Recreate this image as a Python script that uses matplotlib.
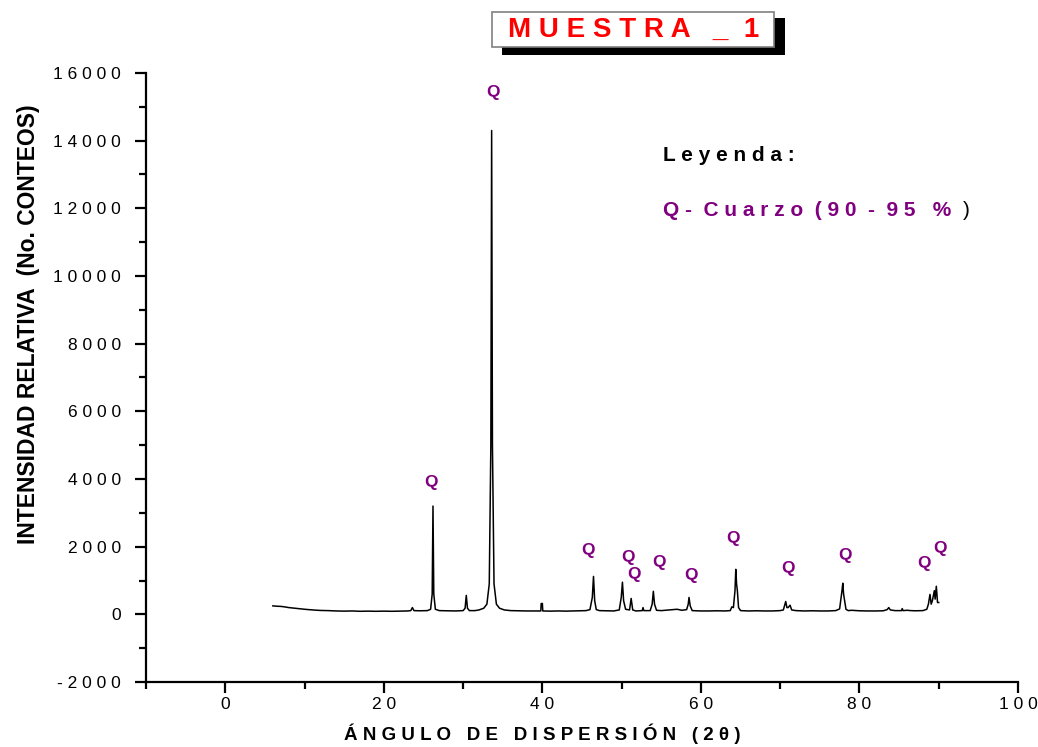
import matplotlib
matplotlib.use("Agg")
import matplotlib.pyplot as plt
from matplotlib.patches import Rectangle
from matplotlib.ticker import MultipleLocator

plt.rcParams["font.family"] = ["Liberation Sans", "DejaVu Sans"]

# difractograma (2theta, conteos)
two_theta = [6.0, 6.5, 7.0, 7.5, 8.0, 9.0, 10.0, 11.0, 12.0, 13.0, 14.0, 15.0,
             16.0, 17.0, 18.0, 19.0, 20.0, 21.0, 22.0, 23.0, 23.4, 23.6, 23.8,
             24.5, 25.5, 25.9, 26.1, 26.2, 26.3, 26.5, 27.0, 28.0, 29.0, 30.0,
             30.25, 30.4, 30.55, 30.8, 31.5, 32.0, 32.6, 33.0, 33.3, 33.5, 33.6,
             33.7, 33.9, 34.2, 34.6, 35.2, 36.0, 37.0, 38.0, 39.0, 39.8, 39.85,
             40.0, 40.05, 41.0, 42.0, 43.0, 44.0, 45.0, 45.5, 46.0, 46.3, 46.45,
             46.6, 46.8, 47.2, 48.0, 49.0, 49.7, 49.95, 50.1, 50.25, 50.5, 51.0,
             51.2, 51.4, 51.8, 52.6, 52.7, 52.8, 53.6, 53.85, 54.0, 54.15, 54.4,
             55.0, 56.0, 57.0, 57.6, 58.2, 58.4, 58.5, 58.65, 58.9, 60.0, 61.0,
             62.0, 63.0, 63.7, 63.9, 64.1, 64.3, 64.4, 64.5, 64.6, 64.75, 65.0,
             66.0, 67.0, 68.0, 69.0, 70.0, 70.4, 70.7, 70.85, 71.0, 71.25, 71.45,
             72.0, 73.0, 74.0, 75.0, 76.0, 77.0, 77.5, 77.8, 77.9, 78.0, 78.1,
             78.3, 78.6, 79.0, 80.0, 81.0, 82.0, 83.0, 83.5, 83.7, 83.9, 84.5,
             85.3, 85.4, 85.5, 86.0, 86.5, 87.0, 88.0, 88.5, 88.7, 88.9, 89.05,
             89.2, 89.45, 89.55, 89.7, 89.85, 90.0]
counts = [250, 240, 235, 220, 200, 175, 150, 130, 115, 110, 100, 95,
          100, 90, 95, 90, 95, 90, 95, 100, 110, 200, 110,
          105, 110, 150, 600, 3200, 600, 150, 110, 105, 100, 110,
          180, 560, 180, 110, 110, 130, 180, 300, 900, 5000, 14300,
          5000, 900, 300, 180, 130, 110, 105, 100, 100, 100, 320,
          320, 100, 95, 100, 95, 100, 105, 110, 140, 500, 1120,
          400, 140, 110, 105, 100, 130, 500, 950, 400, 150, 130,
          470, 130, 100, 110, 200, 110, 110, 300, 680, 300, 120,
          110, 130, 150, 120, 140, 300, 500, 250, 110, 100, 100,
          105, 100, 110, 220, 200, 700, 1330, 900, 700, 200, 110,
          100, 105, 100, 100, 110, 130, 380, 200, 200, 270, 130,
          110, 100, 105, 100, 100, 110, 160, 700, 920, 600, 450,
          150, 110, 120, 105, 100, 100, 105, 140, 200, 130, 110,
          110, 170, 110, 120, 110, 105, 110, 150, 300, 590, 300,
          400, 700, 450, 830, 350, 350]

# etiquetas "Q" (posicion en 2theta, conteos)
q_x = [26.0, 33.8, 45.8, 50.8, 51.6, 54.7, 58.7, 64.1, 71.0, 78.2, 88.1, 90.2]
q_y = [3900, 15430, 1890, 1685, 1180, 1540, 1150, 2250, 1360, 1745, 1510, 1950]

x_ticks = [0, 20, 40, 60, 80, 100]
y_ticks = [-2000, 0, 2000, 4000, 6000, 8000, 10000, 12000, 14000, 16000]

purple = "#800080"


def spaced(s, gap=" "):
    return gap.join(s)


fig = plt.figure(figsize=(10.38, 7.47), dpi=100)
ax = fig.add_axes([0.1407, 0.0870, 0.8400, 0.8153])

ax.plot(two_theta, counts, color="black", linewidth=1.1)

for qx, qy in zip(q_x, q_y):
    ax.text(qx, qy, "Q", color=purple, fontsize=12.5, fontweight="bold",
            ha="center", va="center")

ax.text(55.2, 13570, spaced("Leyenda:"), fontsize=15, fontweight="bold",
        color="black", va="center")
ax.text(55.2, 11940, "Q -  " + spaced("Cuarzo") + "  ( 9 0  -  9 5   %",
        fontsize=15, fontweight="bold", color=purple, va="center")
ax.text(93.0, 11940, ")", fontsize=15, color="black", va="center")

ax.set_xlim(-10, 100)
ax.set_ylim(-2000, 16000)
ax.set_xticks(x_ticks)
ax.set_xticklabels([spaced(str(v)) for v in x_ticks], fontsize=12.5)
ax.set_yticks(y_ticks)
ax.set_yticklabels([spaced(str(v)) for v in y_ticks], fontsize=12.5)
ax.xaxis.set_minor_locator(MultipleLocator(10))
ax.yaxis.set_minor_locator(MultipleLocator(1000))

for side in ["top", "right"]:
    ax.spines[side].set_visible(False)
for side in ["left", "bottom"]:
    ax.spines[side].set_linewidth(1.6)
ax.tick_params(which="major", direction="out", length=8, width=1.6)
ax.tick_params(which="minor", direction="out", length=5, width=1.6)
ax.tick_params(axis="x", pad=3)
ax.tick_params(axis="y", pad=10)

ax.set_xlabel("Á N G U L O   D E   D I S P E R S I Ó N   ( 2 θ )",
              fontsize=13.5, fontweight="bold", va="top")
ax.xaxis.set_label_coords(0.454, -0.068)
ax.set_ylabel("INTENSIDAD RELATIVA  (No. CONTEOS)", fontsize=16.5,
              fontweight="bold")
ax.yaxis.set_label_coords(-0.1215, 0.588)

# titulo en caja con sombra
fig.patches.append(Rectangle((0.4833, 0.9264), 0.2726, 0.0491,
                             transform=fig.transFigure, facecolor="black",
                             edgecolor="none", zorder=1))
fig.patches.append(Rectangle((0.4737, 0.9367), 0.2720, 0.0477,
                             transform=fig.transFigure, facecolor="white",
                             edgecolor="#808080", linewidth=1.2, zorder=2))
fig.text(0.6100, 0.9600, spaced("MUESTRA _ 1").replace("_ ", "_"),
         color="red", fontsize=20, fontweight="bold",
         ha="center", va="center", zorder=3)

fig.savefig("out.png", dpi=100)
